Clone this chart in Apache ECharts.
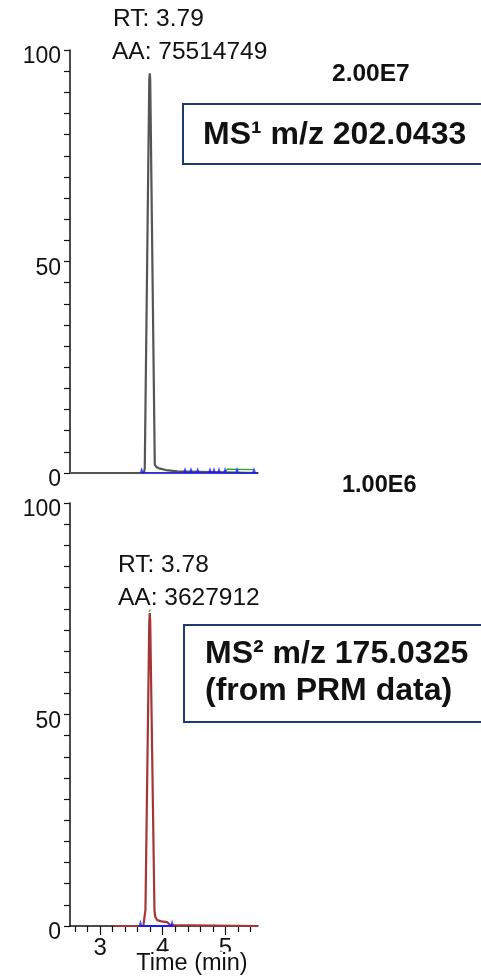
<!DOCTYPE html>
<html>
<head>
<meta charset="utf-8">
<script src="https://cdn.jsdelivr.net/npm/echarts@6/dist/echarts.min.js"></script>
<style>
  html, body { margin: 0; padding: 0; background: #fff; }
  #chart { width: 481px; height: 976px; }
</style>
</head>
<body>
<div id="chart"></div>
<script>
// time axis (min) and tick values
const timeMin = 2.52;
const timeMax = 5.52;
const timeMinorTicks = [2.6, 2.8, 3.2, 3.4, 3.6, 3.8, 4.2, 4.4, 4.6, 4.8, 5.2, 5.4];
const timeMajorTicks = [3, 4, 5];
const intensityLabels = [0, 50, 100];

// MS1 m/z 202.0433 trace: [time, relative abundance]
const ms1Trace = [
  [2.52, 0], [3.70, 0], [3.713, 1.1], [3.785, 93], [3.793, 94.5], [3.80, 93],
  [3.873, 2.0], [3.90, 1.4], [3.94, 1.1], [4.05, 0.7], [4.23, 0.4], [4.26, 0], [5.52, 0],
];
const ms1Baseline = [[3.664, 0], [5.52, 0]];
const ms1Markers = [3.664, 4.355, 4.451, 4.558, 4.754, 4.818, 4.898, 4.993, 5.185, 5.456];
const ms1Green = [[4.993, 0.2], [5.03, 0.9], [5.44, 0.8]];

// MS2 m/z 175.0325 trace (PRM)
const ms2Trace = [
  [3.22, 0], [3.69, 0], [3.70, 0.4], [3.724, 3.8], [3.785, 72], [3.793, 74], [3.80, 72],
  [3.868, 3.6], [3.88, 2.2], [3.91, 1.4], [3.98, 1.1], [4.07, 0.9], [4.12, 0.2], [4.14, 0], [5.52, 0],
];
const ms2Baseline = [[3.644, 0], [4.15, 0]];
const ms2Markers = [3.644, 4.15];
const ms2Apex = [[3.778, 74.3], [3.805, 74.8]];

const ms1Rt = "RT: 3.79";
const ms1Area = "AA: 75514749";
const ms1Scale = "2.00E7";
const ms1Title = "MS¹ m/z 202.0433";
const ms2Rt = "RT: 3.78";
const ms2Area = "AA: 3627912";
const ms2Scale = "1.00E6";
const ms2Title = ["MS² m/z 175.0325", "(from PRM data)"];
const timeTitle = "Time (min)";

const FONT = "'Liberation Sans', Arial, sans-serif";
const caret = "path://M0,10L2,0L4,10Z";

function timeAxis(gridIndex, opts = {}) {
  return {
    type: "value",
    gridIndex,
    position: "bottom",
    min: timeMin,
    max: timeMax,
    splitLine: { show: false },
    axisLine: { show: true, lineStyle: { color: "#111", width: 1.5 } },
    axisTick: { show: false },
    axisLabel: { show: false },
    ...opts,
  };
}

function intensityAxis(gridIndex) {
  return {
    type: "value",
    gridIndex,
    min: 0,
    max: 100,
    interval: 5,
    splitLine: { show: false },
    axisLine: { show: true, lineStyle: { color: "#111", width: 1.5 } },
    axisTick: { show: true, length: 6, lineStyle: { color: "#111", width: 1.2 } },
    axisLabel: {
      customValues: intensityLabels,
      color: "#111",
      fontFamily: FONT,
      fontSize: 23,
      margin: 9,
      verticalAlign: "top",
      lineHeight: 14,
    },
  };
}

function text(x, y, str, size, bold, extra = {}) {
  return {
    type: "text",
    x,
    y,
    z: 10,
    style: {
      text: str, fill: "#111", fontFamily: FONT, fontSize: size,
      fontWeight: bold ? "bold" : "normal", verticalAlign: "middle",
      ...extra,
    },
  };
}

function box(x, y, w, h) {
  return {
    type: "rect",
    z: 9,
    shape: { x, y, width: w, height: h },
    style: { fill: "#fff", stroke: "#1f3a6e", lineWidth: 2 },
  };
}

const chart = echarts.init(document.getElementById("chart"), null, { renderer: "canvas" });
chart.setOption({
  animation: false,
  backgroundColor: "#fff",
  grid: [
    { left: 70, top: 50, width: 188, height: 423, outerBoundsMode: "none" },
    { left: 70, top: 503, width: 188, height: 423, outerBoundsMode: "none" },
  ],
  xAxis: [
    timeAxis(0, { axisLine: { show: true, lineStyle: { color: "#444", width: 1.5 } } }),
    timeAxis(1, {
      axisTick: { show: true, customValues: timeMinorTicks, length: 6, lineStyle: { color: "#111", width: 1.2 } },
    }),
    timeAxis(1, {
      axisLine: { show: false },
      axisTick: { show: true, customValues: timeMajorTicks, length: 9, lineStyle: { color: "#111", width: 1.2 } },
      axisLabel: { show: true, customValues: timeMajorTicks, color: "#111", fontFamily: FONT, fontSize: 24, margin: 10 },
    }),
  ],
  yAxis: [intensityAxis(0), intensityAxis(1)],
  graphic: [
    text(113, 19, ms1Rt, 24.5),
    text(112, 52, ms1Area, 24.5),
    text(332, 74, ms1Scale, 24.5, true),
    box(183, 104, 330, 60),
    text(203, 135, ms1Title, 32, true),
    text(342, 486, ms2Scale, 23.5, true),
    text(118, 565, ms2Rt, 24.5),
    text(118, 598, ms2Area, 24.5),
    box(184, 625, 330, 97),
    text(205, 654, ms2Title[0], 32, true),
    text(205, 691, ms2Title[1], 32, true),
    text(192, 964, timeTitle, 23.5, false, { align: "center", backgroundColor: "#fff", padding: [1, 2, 0, 2] }),
  ],
  series: [
    {
      type: "line", xAxisIndex: 0, yAxisIndex: 0, data: ms1Trace, showSymbol: false, z: 2,
      lineStyle: { color: "#555", width: 2.2 },
    },
    {
      type: "line", xAxisIndex: 0, yAxisIndex: 0, data: ms1Green, showSymbol: false, z: 3,
      lineStyle: { color: "#22aa22", width: 1.2 },
    },
    {
      type: "line", xAxisIndex: 0, yAxisIndex: 0, data: ms1Baseline, showSymbol: false, z: 4,
      lineStyle: { color: "#1a1aff", width: 1.5 },
    },
    {
      type: "scatter", xAxisIndex: 0, yAxisIndex: 0, z: 5,
      data: ms1Markers.map((t) => [t, 0]),
      symbol: caret, symbolSize: [4, 6], symbolOffset: [0, -3],
      itemStyle: { color: "#1a1aff" },
    },
    {
      type: "line", xAxisIndex: 1, yAxisIndex: 1, data: ms2Trace, showSymbol: false, z: 2,
      lineStyle: { color: "#a33636", width: 2.2 },
    },
    {
      type: "line", xAxisIndex: 1, yAxisIndex: 1, data: ms2Baseline, showSymbol: false, z: 4,
      lineStyle: { color: "#1a1aff", width: 1.8 },
    },
    {
      type: "scatter", xAxisIndex: 1, yAxisIndex: 1, z: 5,
      data: ms2Markers.map((t) => [t, 0]),
      symbol: caret, symbolSize: [4, 7], symbolOffset: [0, -3],
      itemStyle: { color: "#1a1aff" },
    },
    {
      type: "line", xAxisIndex: 1, yAxisIndex: 1, data: ms2Apex, showSymbol: false, z: 4,
      lineStyle: { color: "#44bb44", width: 1.4 },
    },
  ],
});
</script>
</body>
</html>
